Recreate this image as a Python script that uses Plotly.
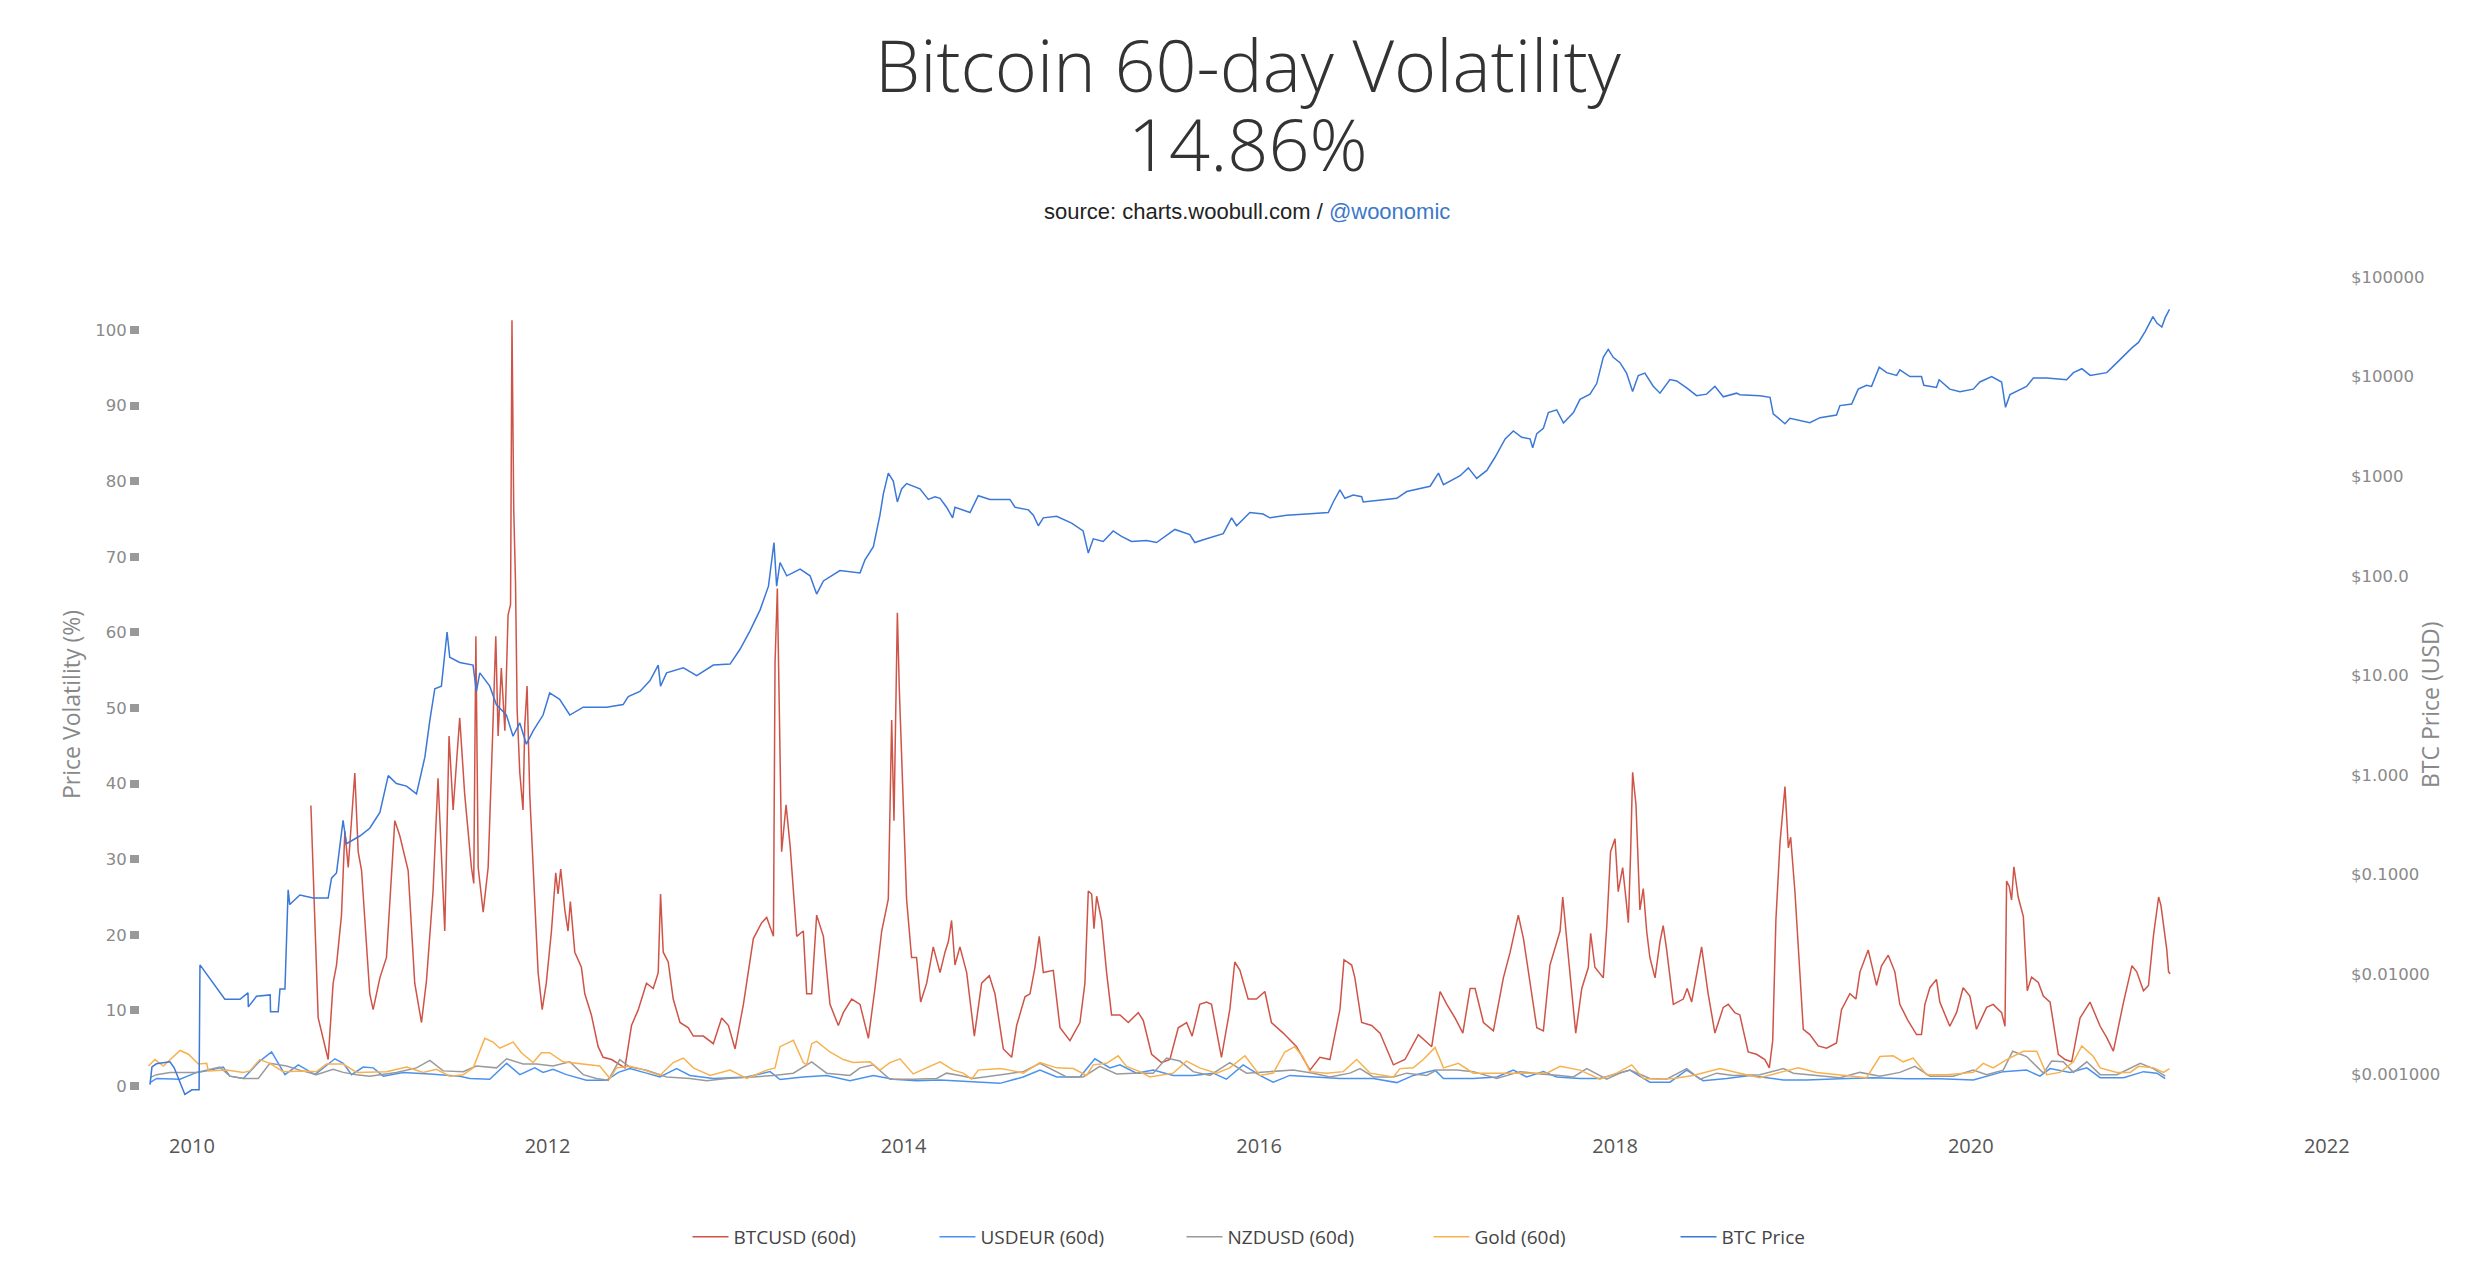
import datetime as dt
import plotly.graph_objects as go

# ---------------- data (decimal years) ----------------
btc_vol_t = [2010.669, 2010.71, 2010.766, 2010.794, 2010.813, 2010.841, 2010.86, 2010.879, 2010.916, 2010.935, 2010.954,
             2011.0, 2011.019, 2011.057, 2011.094, 2011.141, 2011.169, 2011.216, 2011.253, 2011.291, 2011.319, 2011.356,
             2011.384, 2011.403, 2011.422, 2011.446, 2011.469, 2011.506, 2011.534, 2011.572, 2011.585, 2011.597, 2011.61,
             2011.638, 2011.666, 2011.69, 2011.709, 2011.722, 2011.74, 2011.76, 2011.778, 2011.792, 2011.8, 2011.81,
             2011.82, 2011.829, 2011.844, 2011.862, 2011.872, 2011.885, 2011.9, 2011.947, 2011.97, 2011.993, 2012.022,
             2012.046, 2012.059, 2012.074, 2012.097, 2012.115, 2012.128, 2012.153, 2012.19, 2012.209, 2012.246, 2012.284,
             2012.312, 2012.359, 2012.406, 2012.434, 2012.471, 2012.509, 2012.555, 2012.593, 2012.621, 2012.634, 2012.649,
             2012.677, 2012.705, 2012.743, 2012.79, 2012.818, 2012.874, 2012.93, 2012.977, 2013.015, 2013.052, 2013.099,
             2013.155, 2013.202, 2013.23, 2013.268, 2013.277, 2013.29, 2013.301, 2013.314, 2013.339, 2013.362, 2013.399,
             2013.436, 2013.455, 2013.483, 2013.511, 2013.549, 2013.586, 2013.633, 2013.661, 2013.708, 2013.755, 2013.802,
             2013.839, 2013.877, 2013.914, 2013.933, 2013.946, 2013.965, 2013.976, 2013.995, 2014.017, 2014.045, 2014.073,
             2014.096, 2014.13, 2014.167, 2014.205, 2014.233, 2014.252, 2014.27, 2014.289, 2014.317, 2014.355, 2014.398,
             2014.439, 2014.482, 2014.514, 2014.561, 2014.608, 2014.636, 2014.683, 2014.711, 2014.739, 2014.763, 2014.786,
             2014.842, 2014.88, 2014.936, 2014.992, 2015.02, 2015.039, 2015.058, 2015.071, 2015.086, 2015.114, 2015.142,
             2015.17, 2015.217, 2015.264, 2015.32, 2015.348, 2015.395, 2015.451, 2015.498, 2015.545, 2015.592, 2015.623,
             2015.666, 2015.704, 2015.732, 2015.788, 2015.835, 2015.863, 2015.892, 2015.938, 2015.985, 2016.032, 2016.069,
             2016.135, 2016.21, 2016.285, 2016.341, 2016.397, 2016.453, 2016.476, 2016.519, 2016.537, 2016.575, 2016.631,
             2016.678, 2016.753, 2016.818, 2016.893, 2016.968, 2017.015, 2017.053, 2017.099, 2017.143, 2017.184, 2017.212,
             2017.259, 2017.315, 2017.371, 2017.409, 2017.455, 2017.484, 2017.521, 2017.559, 2017.596, 2017.633, 2017.69,
             2017.705, 2017.737, 2017.778, 2017.812, 2017.849, 2017.862, 2017.886, 2017.933, 2017.952, 2017.974, 2017.999,
             2018.017, 2018.042, 2018.064, 2018.074, 2018.087, 2018.098, 2018.117, 2018.139, 2018.158, 2018.177, 2018.195,
             2018.224, 2018.252, 2018.27, 2018.289, 2018.327, 2018.383, 2018.405, 2018.43, 2018.486, 2018.523, 2018.561,
             2018.608, 2018.636, 2018.673, 2018.701, 2018.748, 2018.795, 2018.842, 2018.867, 2018.886, 2018.904, 2018.927,
             2018.946, 2018.955, 2018.974, 2018.987, 2019.011, 2019.03, 2019.058, 2019.095, 2019.142, 2019.189, 2019.245,
             2019.273, 2019.32, 2019.354, 2019.377, 2019.423, 2019.47, 2019.498, 2019.536, 2019.573, 2019.601, 2019.648,
             2019.695, 2019.723, 2019.742, 2019.77, 2019.807, 2019.826, 2019.882, 2019.92, 2019.957, 2019.995, 2020.032,
             2020.089, 2020.126, 2020.173, 2020.192, 2020.201, 2020.216, 2020.229, 2020.242, 2020.266, 2020.295, 2020.317,
             2020.341, 2020.379, 2020.407, 2020.445, 2020.491, 2020.529, 2020.566, 2020.613, 2020.669, 2020.726, 2020.763,
             2020.8, 2020.857, 2020.904, 2020.931, 2020.969, 2020.997, 2021.025, 2021.04, 2021.054, 2021.067, 2021.082,
             2021.1, 2021.11, 2021.119]
btc_vol = [37.1, 9.0, 3.5, 13.6, 16.0, 22.6, 33.7, 28.9, 41.4, 31.0, 28.5,
           12.2, 10.1, 14.3, 17.0, 35.1, 33.1, 28.5, 13.6, 8.4, 13.9, 25.7,
           40.7, 30.3, 20.5, 46.3, 36.5, 48.7, 38.6, 28.9, 26.8, 59.5, 28.9,
           23.0, 28.9, 45.6, 59.5, 46.3, 55.3, 47.0, 62.3, 63.7, 101.3, 76.2,
           66.5, 49.8, 41.4, 36.5, 47.7, 52.9, 38.6, 15.0, 10.1, 13.6, 20.5,
           28.2, 25.4, 28.7, 23.3, 20.5, 24.4, 17.7, 15.7, 12.2, 9.4, 5.2,
           3.8, 3.5, 2.8, 2.4, 8.0, 10.1, 13.6, 12.9, 15.0, 25.4, 17.7,
           16.4, 11.5, 8.4, 7.7, 6.6, 6.6, 5.6, 9.0, 8.0, 4.9, 10.8,
           19.5, 21.6, 22.3, 19.8, 56.0, 65.8, 49.8, 31.0, 37.2, 31.7, 19.8,
           20.5, 12.2, 12.2, 22.6, 19.8, 10.8, 8.0, 9.7, 11.5, 10.8, 6.3,
           12.9, 20.5, 24.7, 48.4, 35.1, 62.6, 52.5, 39.3, 24.7, 17.0, 17.0,
           11.1, 13.6, 18.4, 15.0, 17.7, 19.1, 21.9, 16.0, 18.4, 15.0, 6.6,
           13.6, 14.6, 12.2, 4.9, 3.8, 8.0, 11.8, 12.2, 15.7, 19.8, 15.0,
           15.3, 7.7, 6.0, 8.4, 13.6, 25.8, 25.4, 20.8, 25.1, 21.9, 15.0,
           9.4, 9.4, 8.4, 9.7, 8.7, 4.2, 3.1, 3.5, 7.7, 8.4, 6.6,
           10.8, 11.1, 10.8, 3.8, 10.1, 16.4, 15.3, 11.5, 11.5, 12.5, 8.4,
           7.0, 5.2, 2.1, 3.8, 3.5, 10.1, 16.7, 16.0, 14.3, 8.4, 8.0,
           7.0, 2.8, 3.5, 6.8, 5.2, 12.5, 10.8, 9.0, 7.0, 12.9, 12.9,
           8.4, 7.3, 14.3, 17.7, 22.6, 19.5, 13.6, 7.7, 7.3, 16.0, 20.5,
           25.0, 17.0, 7.0, 12.9, 15.7, 20.2, 15.7, 14.3, 20.9, 31.0, 32.7,
           25.7, 28.9, 24.0, 21.6, 31.0, 41.5, 37.2, 23.3, 26.1, 20.5, 17.0,
           14.3, 19.1, 21.2, 18.1, 10.8, 11.5, 12.9, 11.1, 18.4, 12.2, 7.0,
           10.4, 10.8, 9.7, 9.4, 4.5, 4.2, 3.5, 2.4, 6.0, 22.0, 32.2,
           36.6, 39.6, 31.5, 32.9, 25.7, 18.4, 7.5, 6.8, 5.3, 5.0, 5.7,
           10.1, 12.2, 11.5, 15.1, 18.0, 13.3, 15.9, 17.3, 15.1, 10.8, 8.6,
           6.8, 6.8, 10.8, 13.0, 14.1, 11.1, 7.9, 9.7, 13.0, 11.9, 7.5,
           10.4, 10.8, 9.7, 7.9, 27.1, 26.4, 24.6, 29.0, 25.0, 22.4, 12.6,
           14.4, 13.7, 11.9, 11.1, 4.2, 3.5, 3.2, 9.0, 11.1, 7.9, 6.4,
           4.6, 11.1, 15.9, 15.1, 12.6, 13.3, 19.9, 22.4, 25.0, 23.9, 21.3,
           18.0, 15.1, 14.86]

usdeur_t = [2009.764, 2009.801, 2009.933, 2010.026, 2010.083, 2010.176, 2010.213, 2010.289, 2010.382, 2010.448,
            2010.523, 2010.598, 2010.692, 2010.804, 2010.851, 2010.898, 2010.963, 2011.02, 2011.076, 2011.188,
            2011.338, 2011.413, 2011.507, 2011.563, 2011.675, 2011.77, 2011.844, 2011.928, 2011.975, 2012.031,
            2012.106, 2012.218, 2012.331, 2012.397, 2012.462, 2012.555, 2012.63, 2012.724, 2012.799, 2012.93,
            2013.118, 2013.249, 2013.305, 2013.436, 2013.567, 2013.698, 2013.83, 2013.942, 2014.073, 2014.205,
            2014.355, 2014.542, 2014.673, 2014.767, 2014.861, 2014.992, 2015.076, 2015.161, 2015.217, 2015.31,
            2015.404, 2015.517, 2015.629, 2015.742, 2015.816, 2015.91, 2016.004, 2016.079, 2016.172, 2016.303,
            2016.453, 2016.64, 2016.772, 2016.865, 2016.987, 2017.034, 2017.202, 2017.334, 2017.427, 2017.502,
            2017.596, 2017.671, 2017.802, 2017.914, 2018.083, 2018.195, 2018.308, 2018.402, 2018.495, 2018.627,
            2018.758, 2018.946, 2019.077, 2019.264, 2019.452, 2019.639, 2019.826, 2020.014, 2020.182, 2020.313,
            2020.388, 2020.445, 2020.557, 2020.651, 2020.726, 2020.857, 2020.969, 2021.044, 2021.091]
usdeur = [0.45, 1.0, 0.9, 1.8, 2.0, 2.5, 1.3, 1.0, 3.3, 4.5,
          1.5, 2.8, 1.5, 3.6, 3.0, 1.5, 2.5, 2.4, 1.3, 1.8,
          1.6, 1.5, 1.3, 1.0, 0.9, 3.0, 1.5, 2.4, 1.8, 2.2,
          1.5, 0.75, 0.75, 1.8, 2.3, 1.7, 1.2, 2.3, 1.4, 1.0,
          1.2, 1.9, 0.85, 1.2, 1.4, 0.7, 1.4, 0.9, 0.7, 0.8,
          0.6, 0.35, 1.2, 2.1, 1.2, 1.2, 3.6, 2.4, 2.8, 1.7,
          2.1, 1.4, 1.4, 1.7, 0.9, 2.8, 1.4, 0.5, 1.4, 1.2,
          1.0, 1.0, 0.45, 1.4, 2.1, 1.0, 1.0, 1.2, 2.1, 1.2,
          1.9, 1.2, 1.0, 1.0, 2.1, 0.5, 0.5, 2.1, 0.7, 1.0,
          1.4, 0.8, 0.8, 0.97, 1.1, 0.97, 0.97, 0.8, 1.9, 2.1,
          1.3, 2.3, 1.8, 2.4, 1.1, 1.1, 1.9, 1.7, 0.97]

nzdusd_t = [2009.764, 2009.801, 2009.876, 2010.026, 2010.157, 2010.213, 2010.289, 2010.373, 2010.438, 2010.532,
            2010.607, 2010.7, 2010.794, 2010.851, 2010.926, 2011.0, 2011.15, 2011.263, 2011.338, 2011.413,
            2011.525, 2011.6, 2011.713, 2011.77, 2011.863, 2011.938, 2012.031, 2012.125, 2012.2, 2012.274,
            2012.34, 2012.405, 2012.462, 2012.555, 2012.668, 2012.799, 2012.893, 2013.005, 2013.155, 2013.268,
            2013.38, 2013.483, 2013.567, 2013.698, 2013.755, 2013.83, 2013.923, 2014.054, 2014.186, 2014.242,
            2014.317, 2014.392, 2014.58, 2014.673, 2014.767, 2014.842, 2014.917, 2015.01, 2015.104, 2015.198,
            2015.292, 2015.404, 2015.479, 2015.554, 2015.629, 2015.723, 2015.835, 2015.929, 2016.06, 2016.191,
            2016.303, 2016.397, 2016.509, 2016.566, 2016.64, 2016.753, 2016.828, 2016.94, 2016.996, 2017.109,
            2017.202, 2017.334, 2017.465, 2017.577, 2017.69, 2017.765, 2017.84, 2017.952, 2018.027, 2018.083,
            2018.195, 2018.289, 2018.402, 2018.477, 2018.571, 2018.664, 2018.814, 2018.946, 2019.002, 2019.152,
            2019.264, 2019.377, 2019.489, 2019.601, 2019.686, 2019.77, 2019.901, 2020.014, 2020.089, 2020.182,
            2020.235, 2020.313, 2020.407, 2020.454, 2020.519, 2020.576, 2020.651, 2020.726, 2020.82, 2020.951,
            2021.025, 2021.091]
nzdusd = [1.1, 1.5, 1.8, 1.8, 2.5, 1.3, 1.0, 1.0, 3.0, 2.65,
          2.1, 1.5, 2.2, 1.8, 1.5, 1.3, 1.8, 2.4, 3.4, 2.0,
          1.9, 2.65, 2.4, 3.6, 2.9, 2.9, 2.65, 3.2, 1.5, 1.0,
          0.75, 3.5, 2.5, 2.1, 1.2, 1.0, 0.7, 1.0, 1.2, 1.4,
          1.7, 3.2, 1.7, 1.4, 2.4, 2.8, 0.9, 0.9, 1.0, 1.7,
          1.4, 1.0, 1.6, 1.9, 3.0, 2.1, 1.2, 1.2, 2.6, 1.6,
          1.7, 1.7, 3.7, 3.3, 1.9, 1.4, 3.1, 1.7, 1.9, 2.1,
          1.7, 1.2, 1.7, 2.3, 1.2, 1.2, 1.7, 1.4, 2.1, 2.1,
          1.9, 1.0, 1.9, 1.6, 1.4, 1.2, 2.3, 0.9, 1.7, 2.1,
          1.0, 0.9, 2.3, 0.9, 1.7, 1.4, 1.5, 2.3, 1.7, 1.3,
          1.1, 1.8, 1.3, 1.8, 2.6, 1.3, 1.3, 2.1, 1.5, 2.1,
          4.6, 3.9, 1.7, 3.3, 3.2, 1.8, 3.2, 1.5, 1.5, 3.0,
          2.3, 1.3]

gold_t = [2009.755, 2009.792, 2009.839, 2009.933, 2009.98, 2010.036, 2010.083, 2010.092, 2010.195, 2010.289,
          2010.326, 2010.382, 2010.438, 2010.513, 2010.626, 2010.7, 2010.757, 2010.851, 2010.926, 2011.0,
          2011.094, 2011.207, 2011.3, 2011.375, 2011.45, 2011.525, 2011.582, 2011.647, 2011.694, 2011.731,
          2011.807, 2011.853, 2011.919, 2011.966, 2012.012, 2012.087, 2012.218, 2012.293, 2012.35, 2012.387,
          2012.462, 2012.518, 2012.63, 2012.705, 2012.762, 2012.818, 2012.912, 2013.024, 2013.118, 2013.23,
          2013.277, 2013.305, 2013.38, 2013.436, 2013.455, 2013.483, 2013.511, 2013.586, 2013.661, 2013.717,
          2013.811, 2013.867, 2013.923, 2013.98, 2014.054, 2014.13, 2014.205, 2014.28, 2014.336, 2014.383,
          2014.42, 2014.542, 2014.598, 2014.673, 2014.767, 2014.861, 2014.955, 2015.029, 2015.067, 2015.142,
          2015.207, 2015.254, 2015.329, 2015.385, 2015.517, 2015.592, 2015.666, 2015.76, 2015.835, 2015.92,
          2016.004, 2016.079, 2016.144, 2016.2, 2016.247, 2016.285, 2016.378, 2016.472, 2016.547, 2016.622,
          2016.753, 2016.79, 2016.865, 2016.921, 2016.987, 2017.034, 2017.118, 2017.202, 2017.315, 2017.427,
          2017.54, 2017.615, 2017.69, 2017.802, 2017.914, 2018.008, 2018.093, 2018.158, 2018.252, 2018.327,
          2018.439, 2018.514, 2018.589, 2018.701, 2018.814, 2018.927, 2019.03, 2019.133, 2019.264, 2019.414,
          2019.489, 2019.564, 2019.62, 2019.676, 2019.751, 2019.864, 2020.014, 2020.07, 2020.126, 2020.201,
          2020.295, 2020.37, 2020.426, 2020.501, 2020.576, 2020.623, 2020.688, 2020.726, 2020.82, 2020.894,
          2020.941, 2021.025, 2021.082, 2021.115]
gold = [2.65, 3.5, 2.65, 4.7, 4.2, 2.9, 3.0, 2.0, 2.1, 1.8,
        2.0, 3.5, 3.0, 1.9, 2.0, 1.9, 2.9, 2.9, 1.8, 1.8,
        1.9, 2.5, 1.8, 2.2, 1.3, 1.5, 2.4, 6.3, 5.8, 5.0,
        5.8, 4.4, 3.1, 4.4, 4.4, 3.2, 2.9, 2.65, 1.0, 2.4,
        2.6, 2.3, 1.4, 3.1, 3.7, 2.4, 1.4, 2.1, 1.0, 2.1,
        2.4, 5.2, 6.05, 3.1, 2.8, 5.6, 5.9, 4.5, 3.5, 3.1,
        3.2, 2.1, 3.1, 3.6, 1.6, 2.4, 3.2, 2.1, 1.7, 0.9,
        2.1, 2.3, 2.1, 1.7, 3.1, 2.4, 2.3, 1.4, 2.8, 3.0,
        4.0, 2.6, 1.9, 1.2, 1.7, 3.3, 2.4, 1.7, 2.4, 4.0,
        1.4, 1.7, 4.5, 5.2, 3.8, 1.9, 1.7, 1.9, 3.5, 1.7,
        1.2, 2.3, 2.4, 3.5, 5.1, 2.4, 3.0, 1.7, 1.7, 1.6,
        1.7, 1.7, 2.6, 2.1, 0.9, 1.7, 2.8, 1.0, 0.9, 1.0,
        1.4, 1.9, 2.3, 1.7, 1.1, 1.8, 2.4, 1.8, 1.5, 1.1,
        3.9, 4.0, 3.2, 3.7, 1.5, 1.5, 1.8, 3.0, 2.4, 3.5,
        4.6, 4.6, 1.5, 1.8, 3.2, 5.3, 3.9, 2.4, 1.8, 1.8,
        2.6, 2.4, 1.8, 2.3]

price_t = [2009.764, 2009.775, 2009.80, 2009.876, 2009.90, 2009.96, 2010.0, 2010.04, 2010.045, 2010.185,
           2010.27, 2010.315, 2010.317, 2010.363, 2010.44, 2010.442, 2010.485, 2010.495, 2010.523, 2010.541,
           2010.55, 2010.607, 2010.682, 2010.766, 2010.785, 2010.813, 2010.85, 2010.869, 2010.944, 2011.0,
           2011.057, 2011.104, 2011.15, 2011.207, 2011.263, 2011.31, 2011.338, 2011.366, 2011.403, 2011.435,
           2011.45, 2011.506, 2011.581, 2011.6, 2011.619, 2011.675, 2011.712, 2011.769, 2011.806, 2011.844,
           2011.881, 2011.919, 2011.975, 2012.012, 2012.068, 2012.125, 2012.2, 2012.331, 2012.424, 2012.453,
           2012.518, 2012.574, 2012.621, 2012.634, 2012.668, 2012.762, 2012.837, 2012.93, 2013.024, 2013.08,
           2013.136, 2013.193, 2013.24, 2013.271, 2013.286, 2013.305, 2013.343, 2013.418, 2013.474, 2013.511,
           2013.549, 2013.642, 2013.755, 2013.783, 2013.83, 2013.867, 2013.886, 2013.914, 2013.942, 2013.965,
           2013.989, 2014.017, 2014.092, 2014.139, 2014.177, 2014.205, 2014.242, 2014.276, 2014.289, 2014.374,
           2014.42, 2014.486, 2014.598, 2014.627, 2014.702, 2014.73, 2014.758, 2014.786, 2014.861, 2014.908,
           2014.945, 2015.01, 2015.039, 2015.067, 2015.123, 2015.179, 2015.226, 2015.282, 2015.367, 2015.423,
           2015.526, 2015.61, 2015.638, 2015.704, 2015.798, 2015.845, 2015.873, 2015.948, 2016.022, 2016.06,
           2016.154, 2016.266, 2016.388, 2016.416, 2016.453, 2016.481, 2016.528, 2016.575, 2016.584, 2016.659,
           2016.772, 2016.828, 2016.959, 2017.006, 2017.034, 2017.128, 2017.174, 2017.221, 2017.278, 2017.324,
           2017.381, 2017.427, 2017.474, 2017.521, 2017.536, 2017.559, 2017.596, 2017.624, 2017.671, 2017.709,
           2017.765, 2017.802, 2017.858, 2017.896, 2017.933, 2017.961, 2017.989, 2018.027, 2018.064, 2018.098,
           2018.13, 2018.167, 2018.214, 2018.252, 2018.308, 2018.346, 2018.402, 2018.458, 2018.514, 2018.561,
           2018.608, 2018.683, 2018.701, 2018.814, 2018.871, 2018.889, 2018.955, 2018.983, 2019.095, 2019.152,
           2019.245, 2019.264, 2019.33, 2019.367, 2019.414, 2019.442, 2019.485, 2019.527, 2019.583, 2019.601,
           2019.658, 2019.723, 2019.736, 2019.807, 2019.822, 2019.882, 2019.939, 2020.014, 2020.051, 2020.117,
           2020.173, 2020.195, 2020.22, 2020.313, 2020.351, 2020.426, 2020.538, 2020.576, 2020.623, 2020.67,
           2020.763, 2020.81, 2020.857, 2020.904, 2020.941, 2020.979, 2021.022, 2021.044, 2021.072, 2021.091,
           2021.115]
price = [0.00078, 0.00117, 0.00126, 0.00132, 0.00115, 0.00062, 0.00069, 0.00069, 0.0124, 0.0056,
         0.0056, 0.0065, 0.0047, 0.0060, 0.0062, 0.0042, 0.0042, 0.0071, 0.0071, 0.0705,
         0.050, 0.0624, 0.0582, 0.0582, 0.092, 0.104, 0.351, 0.204, 0.244, 0.292,
         0.421, 0.986, 0.822, 0.774, 0.646, 1.51, 3.54, 7.35, 7.80, 27.3,
         15.2, 13.5, 12.7, 6.90, 10.6, 7.80, 5.09, 4.0, 2.45, 3.33,
         2.04, 2.77, 4.0, 6.67, 5.75, 4.0, 4.80, 4.80, 5.09, 6.12,
         6.90, 8.81, 12.7, 7.80, 10.6, 11.9, 9.95, 12.7, 13.0, 18.3,
         28.0, 45.5, 78.7, 216, 78.7, 136, 100, 117, 100, 65.5,
         88.7, 113, 107, 145, 196, 406, 661, 1074, 895, 551,
         746, 843, 746, 585, 621, 600, 488, 382, 488, 432,
         637, 585, 585, 488, 459, 406, 318, 382, 396, 360,
         338, 282, 169, 235, 221, 282, 249, 221, 226, 216,
         292, 259, 216, 235, 265, 382, 318, 432, 417, 382,
         406, 417, 432, 551, 728, 600, 646, 622, 551, 571,
         600, 701, 793, 1074, 822, 1012, 1213, 951, 1143, 1549,
         2371, 2844, 2460, 2371, 1928, 2679, 3020, 4355, 4634, 3420,
         4355, 5902, 6668, 8511, 15630, 18750, 15630, 13800, 10840, 7080,
         10230, 10840, 8000, 6820, 9350, 9040, 7710, 6430, 6670, 8000,
         6270, 6820, 6590, 6430, 6190, 4230, 3365, 3820, 3450, 3870,
         4120, 5120, 5310, 7480, 8180, 7980, 12450, 10960, 10280, 11700,
         10020, 10020, 8180, 7780, 9290, 7480, 7030, 7480, 8830, 10020,
         8830, 4920, 6590, 7980, 9660, 9660, 9290, 10960, 12000, 10280,
         10960, 13270, 16070, 19410, 22030, 28440, 40090, 34440, 31480, 39080,
         47300]

vol_ticks = [0, 10, 20, 30, 40, 50, 60, 70, 80, 90, 100]
price_tickvals = [0.001, 0.01, 0.1, 1, 10, 100, 1000, 10000, 100000]
price_ticktext = ["$0.001000", "$0.01000", "$0.1000", "$1.000", "$10.00", "$100.0", "$1000", "$10000", "$100000"]
year_ticks = [2010, 2012, 2014, 2016, 2018, 2020, 2022]


def to_date(y):
    yr = int(y)
    a = dt.datetime(yr, 1, 1)
    b = dt.datetime(yr + 1, 1, 1)
    return a + (b - a) * (y - yr)


def dates(ts):
    return [to_date(t) for t in ts]


# ---------------- layout geometry ----------------
# The page body has an 8px margin, so the figure is drawn offset by 8px.
OFF = 8
W, H = 2484 - 2 * OFF, 1270 - 2 * OFF
# plot area in screen pixels
PL, PR, PT, PB = 140, 2340, 265, 1118
X0_PX, X_PER_YEAR = 192, 177.9          # screen x of 2010, pixels per year
V0_PX, V_PER_UNIT = 1086, 7.56           # screen y of 0 %, pixels per %
P5_PX, P_PER_DEC = 277, 99.6             # screen y of $100000, pixels per decade


def px_to_paper_y(py):
    return (PB - py) / (PB - PT)


def px_to_paper_x(px):
    return (px - PL) / (PR - PL)


fig = go.Figure()
fig.add_trace(go.Scatter(x=dates(btc_vol_t), y=btc_vol, name="BTCUSD (60d)", mode="lines",
                         line=dict(color="#cf5448", width=1.5)))
fig.add_trace(go.Scatter(x=dates(usdeur_t), y=usdeur, name="USDEUR (60d)", mode="lines",
                         line=dict(color="#4b92f0", width=1.5)))
fig.add_trace(go.Scatter(x=dates(nzdusd_t), y=nzdusd, name="NZDUSD (60d)", mode="lines",
                         line=dict(color="#9a9a9a", width=1.5)))
fig.add_trace(go.Scatter(x=dates(gold_t), y=gold, name="Gold (60d)", mode="lines",
                         line=dict(color="#f7b14f", width=1.5)))
fig.add_trace(go.Scatter(x=dates(price_t), y=price, name="BTC Price", mode="lines", yaxis="y2",
                         line=dict(color="#3b78d8", width=1.5)))

tick_font = dict(family="DejaVu Sans", size=16.5, color="#8a8a8a")

fig.update_layout(
    width=W, height=H,
    paper_bgcolor="white", plot_bgcolor="white",
    margin=dict(l=PL - OFF, r=W - (PR - OFF), t=PT - OFF, b=H - (PB - OFF), pad=0, autoexpand=False),
    showlegend=True,
    legend=dict(orientation="h", x=px_to_paper_x(1305), xanchor="center",
                y=px_to_paper_y(1237), yanchor="middle",
                font=dict(family="Open Sans", size=19, color="#444"),
                entrywidth=196, entrywidthmode="pixels", itemwidth=36,
                bgcolor="rgba(0,0,0,0)"),
    xaxis=dict(type="date",
               range=[to_date(2010 + (PL - X0_PX) / X_PER_YEAR), to_date(2010 + (PR - X0_PX) / X_PER_YEAR)],
               tickvals=[to_date(y) for y in year_ticks],
               ticktext=[str(y) for y in year_ticks],
               showgrid=False, zeroline=False, showline=False, ticks="",
               ticklabelstandoff=14,
               tickfont=dict(family="Open Sans", size=20, color="#555")),
    yaxis=dict(range=[(V0_PX - PB) / V_PER_UNIT, (V0_PX - PT) / V_PER_UNIT],
               tickvals=vol_ticks, showgrid=False, zeroline=False, showline=False,
               ticks="outside", ticklen=9, tickwidth=8, tickcolor="#999999",
               tickfont=tick_font),
    yaxis2=dict(type="log", overlaying="y", side="right",
                range=[5 - (PB - P5_PX) / P_PER_DEC, 5 - (PT - P5_PX) / P_PER_DEC],
                tickvals=price_tickvals, ticktext=price_ticktext,
                showgrid=False, zeroline=False, showline=False, ticks="",
                ticklabelstandoff=10, tickfont=tick_font),
    annotations=[
        dict(text="Bitcoin 60-day Volatility", x=px_to_paper_x(1248), y=px_to_paper_y(64), xref="paper",
             yref="paper", showarrow=False, xanchor="center", yanchor="middle",
             font=dict(family="Open Sans", size=72, color="#333", weight=300)),
        dict(text="14.86%", x=px_to_paper_x(1248), y=px_to_paper_y(143), xref="paper", yref="paper",
             showarrow=False, xanchor="center", yanchor="middle",
             font=dict(family="Open Sans", size=72, color="#333", weight=300)),
        dict(text="source: charts.woobull.com / <span style='color:#3b78c9'>@woonomic</span>",
             x=px_to_paper_x(1247), y=px_to_paper_y(211), xref="paper", yref="paper",
             showarrow=False, xanchor="center", yanchor="middle",
             font=dict(family="Liberation Sans", size=22, color="#222")),
        dict(text="Price Volatility (%)", x=px_to_paper_x(71), y=px_to_paper_y(705), xref="paper",
             yref="paper", showarrow=False, textangle=-90, xanchor="center", yanchor="middle",
             font=dict(family="Open Sans", size=23, color="#888")),
        dict(text="BTC Price (USD)", x=px_to_paper_x(2430), y=px_to_paper_y(705), xref="paper",
             yref="paper", showarrow=False, textangle=-90, xanchor="center", yanchor="middle",
             font=dict(family="Open Sans", size=23, color="#888")),
    ],
)

fig.write_html("out.html")
